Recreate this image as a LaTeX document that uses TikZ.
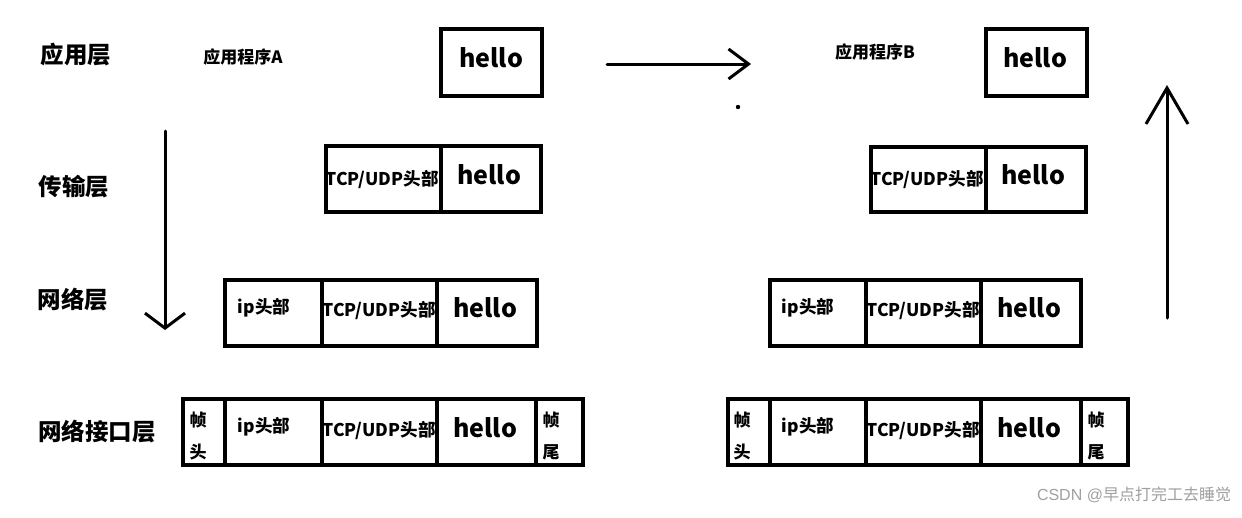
\documentclass[tikz,border=0pt]{standalone}
\usepackage{fontspec}
\setmainfont{Noto Sans CJK SC}
\newfontfamily\wmlatin{Liberation Sans}
\usetikzlibrary{arrows.meta}
\definecolor{wmgray}{HTML}{A0A0A0}
\tikzset{
  cell/.style={draw=black, line width=3.6pt, inner sep=0pt, outer sep=0pt, anchor=north west, fill=none},
  layer/.style={font=\bfseries\fontsize{23.5}{28}\selectfont, inner sep=0pt},
  prog/.style={font=\bfseries\fontsize{17}{20}\selectfont, inner sep=0pt},
  hel/.style={font=\bfseries\fontsize{25}{30}\selectfont, inner sep=0pt},
  hdr/.style={font=\bfseries\fontsize{17.5}{21}\selectfont, inner sep=0pt},
  frm/.style={font=\bfseries\fontsize{17}{32}\selectfont, inner sep=0pt, align=center},
  flow/.style={line width=3pt, line cap=round}
}
\begin{document}
\begin{tikzpicture}[x=1pt,y=-1pt]
\useasboundingbox (0,0) rectangle (1242,517);
\fill[white] (0,0) rectangle (1242,517);

% layer labels
\node[layer] (l1) at (76,55) {应用层};
\node[layer] (l2) at (74,187) {传输层};
\node[layer] (l3) at (73,300) {网络层};
\node[layer] (l4) at (97,432) {网络接口层};
\node[prog] (pa) at (243,57) {应用程序A};
\node[prog] (pb) at (875,52) {应用程序B};

% ---------- left stack ----------
% application
\node[cell, minimum width=101pt, minimum height=67pt] (Lah) at (441,29) {};
\node[hel] (tLah) at (491,58) {hello};
% transport
\node[cell, minimum width=115pt, minimum height=66pt] (Ltt) at (326,146) {};
\node[cell, minimum width=100pt, minimum height=66pt] (Lth) at (441,146) {};
\node[hdr] (tLtt) at (382,180) {TCP/UDP头部};
\node[hel] (tLth) at (489,175) {hello};
% network
\node[cell, minimum width=97pt, minimum height=66pt] (Lni) at (225,280) {};
\node[cell, minimum width=115pt, minimum height=66pt] (Lnt) at (322,280) {};
\node[cell, minimum width=100pt, minimum height=66pt] (Lnh) at (437,280) {};
\node[hdr] (tLni) at (264,308) {ip头部};
\node[hdr] (tLnt) at (379,311) {TCP/UDP头部};
\node[hel] (tLnh) at (485,308) {hello};
% link
\node[cell, minimum width=42pt, minimum height=66pt] (Lkf) at (183,399) {};
\node[cell, minimum width=97pt, minimum height=66pt] (Lki) at (225,399) {};
\node[cell, minimum width=115pt, minimum height=66pt] (Lkt) at (322,399) {};
\node[cell, minimum width=99pt, minimum height=66pt] (Lkh) at (437,399) {};
\node[cell, minimum width=47pt, minimum height=66pt] (Lke) at (536,399) {};
\node[frm] (tLkf) at (198,436) {帧\\头};
\node[hdr] (tLki) at (264,427) {ip头部};
\node[hdr] (tLkt) at (379,431) {TCP/UDP头部};
\node[hel] (tLkh) at (485,428) {hello};
\node[frm] (tLke) at (551,436) {帧\\尾};

% ---------- right stack ----------
\node[cell, minimum width=101pt, minimum height=67pt] (Rah) at (986,29) {};
\node[hel] (tRah) at (1035,58) {hello};
\node[cell, minimum width=115pt, minimum height=65pt] (Rtt) at (871,147) {};
\node[cell, minimum width=100pt, minimum height=65pt] (Rth) at (986,147) {};
\node[hdr] (tRtt) at (927,180) {TCP/UDP头部};
\node[hel] (tRth) at (1033,175) {hello};
\node[cell, minimum width=96pt, minimum height=66pt] (Rni) at (770,280) {};
\node[cell, minimum width=115pt, minimum height=66pt] (Rnt) at (866,280) {};
\node[cell, minimum width=100pt, minimum height=66pt] (Rnh) at (981,280) {};
\node[hdr] (tRni) at (808,308) {ip头部};
\node[hdr] (tRnt) at (923,311) {TCP/UDP头部};
\node[hel] (tRnh) at (1029,308) {hello};
\node[cell, minimum width=42pt, minimum height=66pt] (Rkf) at (728,399) {};
\node[cell, minimum width=96pt, minimum height=66pt] (Rki) at (770,399) {};
\node[cell, minimum width=115pt, minimum height=66pt] (Rkt) at (866,399) {};
\node[cell, minimum width=100pt, minimum height=66pt] (Rkh) at (981,399) {};
\node[cell, minimum width=47pt, minimum height=66pt] (Rke) at (1081,399) {};
\node[frm] (tRkf) at (742,436) {帧\\头};
\node[hdr] (tRki) at (808,427) {ip头部};
\node[hdr] (tRkt) at (923,431) {TCP/UDP头部};
\node[hel] (tRkh) at (1029,428) {hello};
\node[frm] (tRke) at (1096,436) {帧\\尾};

% arrows
\coordinate (hs) at (607,64);
\coordinate (he) at (751,64);
\draw[flow, -{Straight Barb[length=20pt,width=30pt,line width=3pt]}] (hs) -- (he);
\coordinate (ds) at (165,131);
\coordinate (de) at (165,330);
\draw[flow, -{Straight Barb[length=15pt,width=40pt,line width=3pt]}] (ds) -- (de);
\coordinate (us) at (1167,318);
\coordinate (ue) at (1167,85);
\draw[flow, -{Straight Barb[length=36pt,width=42pt,line width=3pt]}] (us) -- (ue);
\fill (738,107) circle (2.2pt);

% watermark
\node[text=wmgray, inner sep=0pt, font=\fontsize{16}{20}\selectfont] (wm) at (1134,495) {{\wmlatin CSDN @}早点打完工去睡觉};
\end{tikzpicture}
\end{document}
